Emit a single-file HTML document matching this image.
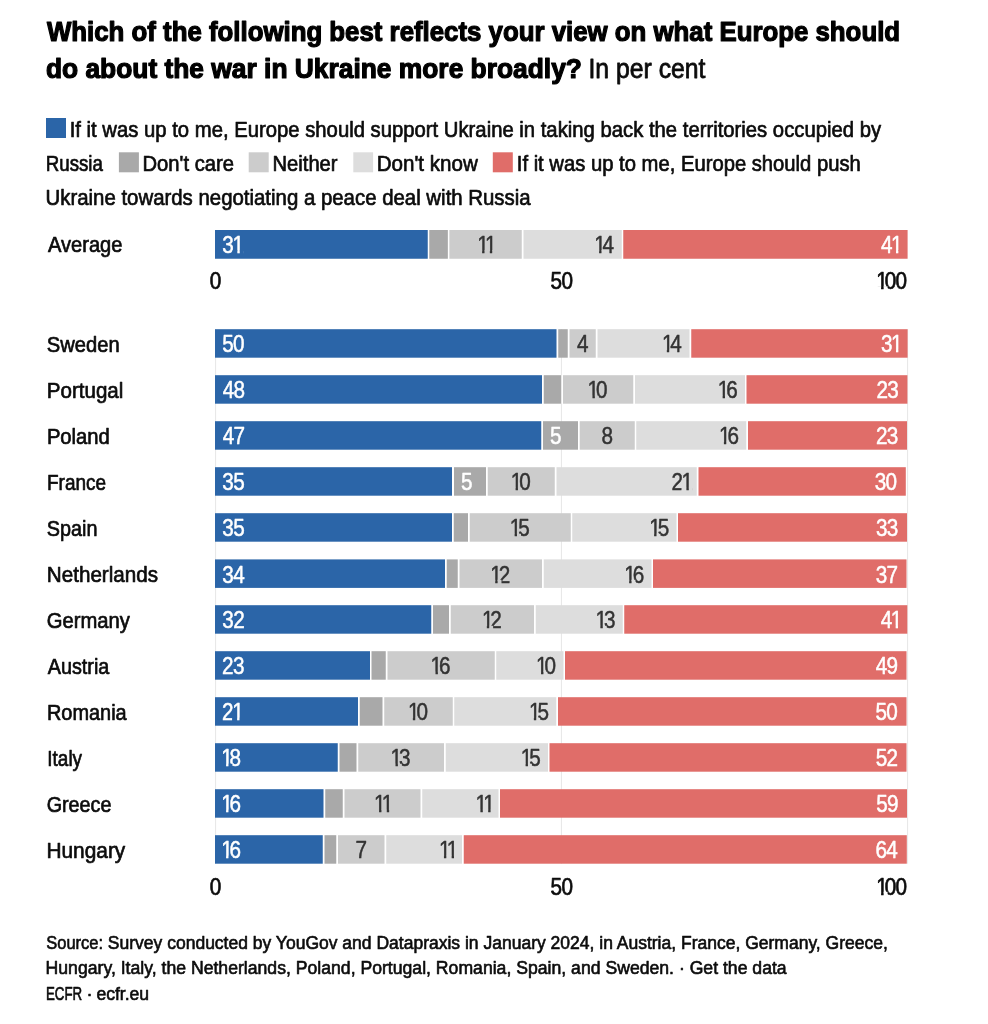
<!DOCTYPE html>
<html lang="en"><head><meta charset="utf-8"><title>What should Europe do about the war in Ukraine</title>
<style>
html,body{margin:0;padding:0;background:#fff;}
body{width:988px;height:1024px;overflow:hidden;}
svg{display:block;font-family:"Liberation Sans",sans-serif;}
text{stroke-linejoin:round;}
</style></head><body>
<svg width="988" height="1024" viewBox="0 0 988 1024">
<rect width="988" height="1024" fill="#ffffff"/>
<defs>
<clipPath id="c31_05"><rect x="-9.00" y="-30.00" width="79.00" height="27.33"/><rect x="-9.00" y="1.55" width="79.00" height="10.45"/><rect x="-9.00" y="-3.67" width="20.10" height="6.22"/><rect x="16.71" y="-3.67" width="2.57" height="6.22"/><rect x="23.72" y="-3.67" width="46.28" height="6.22"/></clipPath>
<clipPath id="c11_05"><rect x="-9.00" y="-30.00" width="79.00" height="27.33"/><rect x="-9.00" y="1.55" width="79.00" height="10.45"/><rect x="-9.00" y="-3.67" width="8.90" height="6.22"/><rect x="5.51" y="-3.67" width="2.57" height="6.22"/><rect x="14.11" y="-3.67" width="2.57" height="6.22"/><rect x="21.12" y="-3.67" width="48.88" height="6.22"/></clipPath>
<clipPath id="c14_05"><rect x="-9.00" y="-30.00" width="79.00" height="27.33"/><rect x="-9.00" y="1.55" width="79.00" height="10.45"/><rect x="-9.00" y="-3.67" width="8.90" height="6.22"/><rect x="5.51" y="-3.67" width="2.57" height="6.22"/><rect x="12.52" y="-3.67" width="57.48" height="6.22"/></clipPath>
<clipPath id="c41_05"><rect x="-9.00" y="-30.00" width="79.00" height="27.33"/><rect x="-9.00" y="1.55" width="79.00" height="10.45"/><rect x="-9.00" y="-3.67" width="20.10" height="6.22"/><rect x="16.71" y="-3.67" width="2.57" height="6.22"/><rect x="23.72" y="-3.67" width="46.28" height="6.22"/></clipPath>
<clipPath id="c10_05"><rect x="-9.00" y="-30.00" width="79.00" height="27.33"/><rect x="-9.00" y="1.55" width="79.00" height="10.45"/><rect x="-9.00" y="-3.67" width="8.90" height="6.22"/><rect x="5.51" y="-3.67" width="2.57" height="6.22"/><rect x="12.52" y="-3.67" width="57.48" height="6.22"/></clipPath>
<clipPath id="c16_05"><rect x="-9.00" y="-30.00" width="79.00" height="27.33"/><rect x="-9.00" y="1.55" width="79.00" height="10.45"/><rect x="-9.00" y="-3.67" width="8.90" height="6.22"/><rect x="5.51" y="-3.67" width="2.57" height="6.22"/><rect x="12.52" y="-3.67" width="57.48" height="6.22"/></clipPath>
<clipPath id="c21_05"><rect x="-9.00" y="-30.00" width="79.00" height="27.33"/><rect x="-9.00" y="1.55" width="79.00" height="10.45"/><rect x="-9.00" y="-3.67" width="20.10" height="6.22"/><rect x="16.71" y="-3.67" width="2.57" height="6.22"/><rect x="23.72" y="-3.67" width="46.28" height="6.22"/></clipPath>
<clipPath id="c15_05"><rect x="-9.00" y="-30.00" width="79.00" height="27.33"/><rect x="-9.00" y="1.55" width="79.00" height="10.45"/><rect x="-9.00" y="-3.67" width="8.90" height="6.22"/><rect x="5.51" y="-3.67" width="2.57" height="6.22"/><rect x="12.52" y="-3.67" width="57.48" height="6.22"/></clipPath>
<clipPath id="c12_05"><rect x="-9.00" y="-30.00" width="79.00" height="27.33"/><rect x="-9.00" y="1.55" width="79.00" height="10.45"/><rect x="-9.00" y="-3.67" width="8.90" height="6.22"/><rect x="5.51" y="-3.67" width="2.57" height="6.22"/><rect x="12.52" y="-3.67" width="57.48" height="6.22"/></clipPath>
<clipPath id="c13_05"><rect x="-9.00" y="-30.00" width="79.00" height="27.33"/><rect x="-9.00" y="1.55" width="79.00" height="10.45"/><rect x="-9.00" y="-3.67" width="8.90" height="6.22"/><rect x="5.51" y="-3.67" width="2.57" height="6.22"/><rect x="12.52" y="-3.67" width="57.48" height="6.22"/></clipPath>
<clipPath id="c18_05"><rect x="-9.00" y="-30.00" width="79.00" height="27.33"/><rect x="-9.00" y="1.55" width="79.00" height="10.45"/><rect x="-9.00" y="-3.67" width="8.90" height="6.22"/><rect x="5.51" y="-3.67" width="2.57" height="6.22"/><rect x="12.52" y="-3.67" width="57.48" height="6.22"/></clipPath>
<clipPath id="c100_07"><rect x="-9.00" y="-30.00" width="79.00" height="27.23"/><rect x="-9.00" y="1.65" width="79.00" height="10.35"/><rect x="-9.00" y="-3.77" width="8.80" height="6.42"/><rect x="5.41" y="-3.77" width="2.77" height="6.42"/><rect x="12.62" y="-3.77" width="57.38" height="6.42"/></clipPath>
</defs>
<rect x="215.10" y="329.20" width="1.00" height="534.50" fill="#e6e6e6"/>
<rect x="560.90" y="329.20" width="1.00" height="534.50" fill="#e6e6e6"/>
<rect x="907.10" y="329.20" width="1.00" height="534.50" fill="#e6e6e6"/>
<rect x="215.00" y="230.00" width="212.75" height="28.75" fill="#2b65a8"/>
<rect x="429.25" y="230.00" width="18.60" height="28.75" fill="#a9a9a9"/>
<rect x="449.35" y="230.00" width="72.40" height="28.75" fill="#cccccc"/>
<rect x="523.50" y="230.00" width="98.25" height="28.75" fill="#dddddd"/>
<rect x="623.25" y="230.00" width="284.35" height="28.75" fill="#e06d69"/>
<text x="47.91" y="252.30" font-size="22.4" fill="#0c0c0c" stroke="#0c0c0c" stroke-width="0.7" textLength="74.53" lengthAdjust="spacingAndGlyphs">Average</text>
<g transform="translate(222.34,252.90) scale(0.9,1)"><text x="0.00 11.20" y="0" font-size="23.0" fill="#ffffff" stroke="#ffffff" stroke-width="0.5" clip-path="url(#c31_05)">31</text></g>
<g transform="translate(477.17,252.90) scale(0.9,1)"><text x="0.00 8.60" y="0" font-size="23.0" fill="#333333" stroke="#333333" stroke-width="0.5" clip-path="url(#c11_05)">11</text></g>
<g transform="translate(594.16,252.90) scale(0.9,1)"><text x="0.00 9.40" y="0" font-size="23.0" fill="#333333" stroke="#333333" stroke-width="0.5" clip-path="url(#c14_05)">14</text></g>
<g transform="translate(880.96,252.90) scale(0.9,1)"><text x="0.00 11.20" y="0" font-size="23.0" fill="#ffffff" stroke="#ffffff" stroke-width="0.5" clip-path="url(#c41_05)">41</text></g>
<rect x="215.00" y="329.20" width="341.50" height="28.50" fill="#2b65a8"/>
<rect x="558.25" y="329.20" width="9.50" height="28.50" fill="#a9a9a9"/>
<rect x="569.50" y="329.20" width="26.25" height="28.50" fill="#cccccc"/>
<rect x="597.50" y="329.20" width="92.00" height="28.50" fill="#dddddd"/>
<rect x="691.25" y="329.20" width="216.35" height="28.50" fill="#e06d69"/>
<text x="46.83" y="351.90" font-size="22.4" fill="#0c0c0c" stroke="#0c0c0c" stroke-width="0.7" textLength="72.88" lengthAdjust="spacingAndGlyphs">Sweden</text>
<g transform="translate(222.30,352.30) scale(0.9,1)"><text x="0.00 12.00" y="0" font-size="23.0" fill="#ffffff" stroke="#ffffff" stroke-width="0.5">50</text></g>
<g transform="translate(576.93,352.30) scale(0.9,1)"><text x="0.00" y="0" font-size="23.0" fill="#333333" stroke="#333333" stroke-width="0.5">4</text></g>
<g transform="translate(661.91,352.30) scale(0.9,1)"><text x="0.00 9.40" y="0" font-size="23.0" fill="#333333" stroke="#333333" stroke-width="0.5" clip-path="url(#c14_05)">14</text></g>
<g transform="translate(880.96,352.30) scale(0.9,1)"><text x="0.00 11.20" y="0" font-size="23.0" fill="#ffffff" stroke="#ffffff" stroke-width="0.5" clip-path="url(#c31_05)">31</text></g>
<rect x="215.00" y="375.20" width="327.00" height="28.50" fill="#2b65a8"/>
<rect x="543.75" y="375.20" width="17.25" height="28.50" fill="#a9a9a9"/>
<rect x="563.00" y="375.20" width="70.25" height="28.50" fill="#cccccc"/>
<rect x="635.00" y="375.20" width="110.00" height="28.50" fill="#dddddd"/>
<rect x="746.50" y="375.20" width="160.90" height="28.50" fill="#e06d69"/>
<text x="46.87" y="397.90" font-size="22.4" fill="#0c0c0c" stroke="#0c0c0c" stroke-width="0.7" textLength="76.46" lengthAdjust="spacingAndGlyphs">Portugal</text>
<g transform="translate(222.65,398.30) scale(0.9,1)"><text x="0.00 12.00" y="0" font-size="23.0" fill="#ffffff" stroke="#ffffff" stroke-width="0.5">48</text></g>
<g transform="translate(587.55,398.30) scale(0.9,1)"><text x="0.00 9.40" y="0" font-size="23.0" fill="#333333" stroke="#333333" stroke-width="0.5" clip-path="url(#c10_05)">10</text></g>
<g transform="translate(717.72,398.30) scale(0.9,1)"><text x="0.00 9.40" y="0" font-size="23.0" fill="#333333" stroke="#333333" stroke-width="0.5" clip-path="url(#c16_05)">16</text></g>
<g transform="translate(876.48,398.30) scale(0.9,1)"><text x="0.00 12.00" y="0" font-size="23.0" fill="#ffffff" stroke="#ffffff" stroke-width="0.5">23</text></g>
<rect x="215.00" y="421.20" width="326.25" height="28.50" fill="#2b65a8"/>
<rect x="543.00" y="421.20" width="35.00" height="28.50" fill="#a9a9a9"/>
<rect x="579.70" y="421.20" width="55.05" height="28.50" fill="#cccccc"/>
<rect x="636.25" y="421.20" width="110.00" height="28.50" fill="#dddddd"/>
<rect x="748.00" y="421.20" width="159.00" height="28.50" fill="#e06d69"/>
<text x="46.89" y="443.90" font-size="22.4" fill="#0c0c0c" stroke="#0c0c0c" stroke-width="0.7" textLength="62.96" lengthAdjust="spacingAndGlyphs">Poland</text>
<g transform="translate(222.65,444.30) scale(0.9,1)"><text x="0.00 12.00" y="0" font-size="23.0" fill="#ffffff" stroke="#ffffff" stroke-width="0.5">47</text></g>
<g transform="translate(550.00,444.30) scale(0.9,1)"><text x="0.00" y="0" font-size="23.0" fill="#ffffff" stroke="#ffffff" stroke-width="0.5">5</text></g>
<g transform="translate(601.47,444.30) scale(0.9,1)"><text x="0.00" y="0" font-size="23.0" fill="#333333" stroke="#333333" stroke-width="0.5">8</text></g>
<g transform="translate(718.97,444.30) scale(0.9,1)"><text x="0.00 9.40" y="0" font-size="23.0" fill="#333333" stroke="#333333" stroke-width="0.5" clip-path="url(#c16_05)">16</text></g>
<g transform="translate(876.08,444.30) scale(0.9,1)"><text x="0.00 12.00" y="0" font-size="23.0" fill="#ffffff" stroke="#ffffff" stroke-width="0.5">23</text></g>
<rect x="215.00" y="467.20" width="237.00" height="28.50" fill="#2b65a8"/>
<rect x="454.00" y="467.20" width="32.00" height="28.50" fill="#a9a9a9"/>
<rect x="487.75" y="467.20" width="67.00" height="28.50" fill="#cccccc"/>
<rect x="556.50" y="467.20" width="140.25" height="28.50" fill="#dddddd"/>
<rect x="698.50" y="467.20" width="207.30" height="28.50" fill="#e06d69"/>
<text x="46.99" y="489.90" font-size="22.4" fill="#0c0c0c" stroke="#0c0c0c" stroke-width="0.7" textLength="59.10" lengthAdjust="spacingAndGlyphs">France</text>
<g transform="translate(222.34,490.30) scale(0.9,1)"><text x="0.00 12.00" y="0" font-size="23.0" fill="#ffffff" stroke="#ffffff" stroke-width="0.5">35</text></g>
<g transform="translate(461.00,490.30) scale(0.9,1)"><text x="0.00" y="0" font-size="23.0" fill="#ffffff" stroke="#ffffff" stroke-width="0.5">5</text></g>
<g transform="translate(510.68,490.30) scale(0.9,1)"><text x="0.00 9.40" y="0" font-size="23.0" fill="#333333" stroke="#333333" stroke-width="0.5" clip-path="url(#c10_05)">10</text></g>
<g transform="translate(671.41,490.30) scale(0.9,1)"><text x="0.00 11.20" y="0" font-size="23.0" fill="#333333" stroke="#333333" stroke-width="0.5" clip-path="url(#c21_05)">21</text></g>
<g transform="translate(874.77,490.30) scale(0.9,1)"><text x="0.00 12.00" y="0" font-size="23.0" fill="#ffffff" stroke="#ffffff" stroke-width="0.5">30</text></g>
<rect x="215.00" y="513.20" width="237.00" height="28.50" fill="#2b65a8"/>
<rect x="453.75" y="513.20" width="14.25" height="28.50" fill="#a9a9a9"/>
<rect x="469.75" y="513.20" width="101.00" height="28.50" fill="#cccccc"/>
<rect x="572.25" y="513.20" width="104.25" height="28.50" fill="#dddddd"/>
<rect x="678.00" y="513.20" width="229.00" height="28.50" fill="#e06d69"/>
<text x="46.85" y="535.90" font-size="22.4" fill="#0c0c0c" stroke="#0c0c0c" stroke-width="0.7" textLength="50.69" lengthAdjust="spacingAndGlyphs">Spain</text>
<g transform="translate(222.34,536.30) scale(0.9,1)"><text x="0.00 12.00" y="0" font-size="23.0" fill="#ffffff" stroke="#ffffff" stroke-width="0.5">35</text></g>
<g transform="translate(509.71,536.30) scale(0.9,1)"><text x="0.00 9.40" y="0" font-size="23.0" fill="#333333" stroke="#333333" stroke-width="0.5" clip-path="url(#c15_05)">15</text></g>
<g transform="translate(649.18,536.30) scale(0.9,1)"><text x="0.00 9.40" y="0" font-size="23.0" fill="#333333" stroke="#333333" stroke-width="0.5" clip-path="url(#c15_05)">15</text></g>
<g transform="translate(876.08,536.30) scale(0.9,1)"><text x="0.00 12.00" y="0" font-size="23.0" fill="#ffffff" stroke="#ffffff" stroke-width="0.5">33</text></g>
<rect x="215.00" y="559.40" width="230.00" height="28.50" fill="#2b65a8"/>
<rect x="446.75" y="559.40" width="11.00" height="28.50" fill="#a9a9a9"/>
<rect x="459.50" y="559.40" width="82.50" height="28.50" fill="#cccccc"/>
<rect x="543.75" y="559.40" width="107.75" height="28.50" fill="#dddddd"/>
<rect x="653.00" y="559.40" width="253.50" height="28.50" fill="#e06d69"/>
<text x="46.86" y="582.10" font-size="22.4" fill="#0c0c0c" stroke="#0c0c0c" stroke-width="0.7" textLength="111.14" lengthAdjust="spacingAndGlyphs">Netherlands</text>
<g transform="translate(222.34,582.50) scale(0.9,1)"><text x="0.00 12.00" y="0" font-size="23.0" fill="#ffffff" stroke="#ffffff" stroke-width="0.5">34</text></g>
<g transform="translate(490.29,582.50) scale(0.9,1)"><text x="0.00 9.40" y="0" font-size="23.0" fill="#333333" stroke="#333333" stroke-width="0.5" clip-path="url(#c12_05)">12</text></g>
<g transform="translate(624.22,582.50) scale(0.9,1)"><text x="0.00 9.40" y="0" font-size="23.0" fill="#333333" stroke="#333333" stroke-width="0.5" clip-path="url(#c16_05)">16</text></g>
<g transform="translate(875.70,582.50) scale(0.9,1)"><text x="0.00 12.00" y="0" font-size="23.0" fill="#ffffff" stroke="#ffffff" stroke-width="0.5">37</text></g>
<rect x="215.00" y="605.20" width="216.25" height="28.50" fill="#2b65a8"/>
<rect x="433.00" y="605.20" width="16.00" height="28.50" fill="#a9a9a9"/>
<rect x="450.75" y="605.20" width="83.25" height="28.50" fill="#cccccc"/>
<rect x="535.75" y="605.20" width="87.00" height="28.50" fill="#dddddd"/>
<rect x="624.25" y="605.20" width="283.05" height="28.50" fill="#e06d69"/>
<text x="46.73" y="627.90" font-size="22.4" fill="#0c0c0c" stroke="#0c0c0c" stroke-width="0.7" textLength="83.16" lengthAdjust="spacingAndGlyphs">Germany</text>
<g transform="translate(222.34,628.30) scale(0.9,1)"><text x="0.00 12.00" y="0" font-size="23.0" fill="#ffffff" stroke="#ffffff" stroke-width="0.5">32</text></g>
<g transform="translate(481.91,628.30) scale(0.9,1)"><text x="0.00 9.40" y="0" font-size="23.0" fill="#333333" stroke="#333333" stroke-width="0.5" clip-path="url(#c12_05)">12</text></g>
<g transform="translate(595.47,628.30) scale(0.9,1)"><text x="0.00 9.40" y="0" font-size="23.0" fill="#333333" stroke="#333333" stroke-width="0.5" clip-path="url(#c13_05)">13</text></g>
<g transform="translate(880.66,628.30) scale(0.9,1)"><text x="0.00 11.20" y="0" font-size="23.0" fill="#ffffff" stroke="#ffffff" stroke-width="0.5" clip-path="url(#c41_05)">41</text></g>
<rect x="215.00" y="651.20" width="155.00" height="28.50" fill="#2b65a8"/>
<rect x="371.50" y="651.20" width="14.25" height="28.50" fill="#a9a9a9"/>
<rect x="387.50" y="651.20" width="107.25" height="28.50" fill="#cccccc"/>
<rect x="496.25" y="651.20" width="67.25" height="28.50" fill="#dddddd"/>
<rect x="565.00" y="651.20" width="341.50" height="28.50" fill="#e06d69"/>
<text x="47.71" y="673.90" font-size="22.4" fill="#0c0c0c" stroke="#0c0c0c" stroke-width="0.7" textLength="61.64" lengthAdjust="spacingAndGlyphs">Austria</text>
<g transform="translate(222.09,674.30) scale(0.9,1)"><text x="0.00 12.00" y="0" font-size="23.0" fill="#ffffff" stroke="#ffffff" stroke-width="0.5">23</text></g>
<g transform="translate(430.60,674.30) scale(0.9,1)"><text x="0.00 9.40" y="0" font-size="23.0" fill="#333333" stroke="#333333" stroke-width="0.5" clip-path="url(#c16_05)">16</text></g>
<g transform="translate(536.11,674.30) scale(0.9,1)"><text x="0.00 9.40" y="0" font-size="23.0" fill="#333333" stroke="#333333" stroke-width="0.5" clip-path="url(#c10_05)">10</text></g>
<g transform="translate(875.64,674.30) scale(0.9,1)"><text x="0.00 12.00" y="0" font-size="23.0" fill="#ffffff" stroke="#ffffff" stroke-width="0.5">49</text></g>
<rect x="215.00" y="697.20" width="143.00" height="28.50" fill="#2b65a8"/>
<rect x="359.75" y="697.20" width="22.75" height="28.50" fill="#a9a9a9"/>
<rect x="384.25" y="697.20" width="68.50" height="28.50" fill="#cccccc"/>
<rect x="454.25" y="697.20" width="102.00" height="28.50" fill="#dddddd"/>
<rect x="558.00" y="697.20" width="348.50" height="28.50" fill="#e06d69"/>
<text x="46.91" y="719.90" font-size="22.4" fill="#0c0c0c" stroke="#0c0c0c" stroke-width="0.7" textLength="79.74" lengthAdjust="spacingAndGlyphs">Romania</text>
<g transform="translate(222.09,720.30) scale(0.9,1)"><text x="0.00 11.20" y="0" font-size="23.0" fill="#ffffff" stroke="#ffffff" stroke-width="0.5" clip-path="url(#c21_05)">21</text></g>
<g transform="translate(407.93,720.30) scale(0.9,1)"><text x="0.00 9.40" y="0" font-size="23.0" fill="#333333" stroke="#333333" stroke-width="0.5" clip-path="url(#c10_05)">10</text></g>
<g transform="translate(528.93,720.30) scale(0.9,1)"><text x="0.00 9.40" y="0" font-size="23.0" fill="#333333" stroke="#333333" stroke-width="0.5" clip-path="url(#c15_05)">15</text></g>
<g transform="translate(875.47,720.30) scale(0.9,1)"><text x="0.00 12.00" y="0" font-size="23.0" fill="#ffffff" stroke="#ffffff" stroke-width="0.5">50</text></g>
<rect x="215.00" y="743.20" width="122.75" height="28.50" fill="#2b65a8"/>
<rect x="339.50" y="743.20" width="17.00" height="28.50" fill="#a9a9a9"/>
<rect x="358.25" y="743.20" width="85.75" height="28.50" fill="#cccccc"/>
<rect x="445.75" y="743.20" width="102.25" height="28.50" fill="#dddddd"/>
<rect x="549.50" y="743.20" width="357.00" height="28.50" fill="#e06d69"/>
<text x="47.35" y="765.90" font-size="22.4" fill="#0c0c0c" stroke="#0c0c0c" stroke-width="0.7" textLength="34.73" lengthAdjust="spacingAndGlyphs">Italy</text>
<g transform="translate(221.14,766.30) scale(0.9,1)"><text x="0.00 9.40" y="0" font-size="23.0" fill="#ffffff" stroke="#ffffff" stroke-width="0.5" clip-path="url(#c18_05)">18</text></g>
<g transform="translate(390.60,766.30) scale(0.9,1)"><text x="0.00 9.40" y="0" font-size="23.0" fill="#333333" stroke="#333333" stroke-width="0.5" clip-path="url(#c13_05)">13</text></g>
<g transform="translate(520.68,766.30) scale(0.9,1)"><text x="0.00 9.40" y="0" font-size="23.0" fill="#333333" stroke="#333333" stroke-width="0.5" clip-path="url(#c15_05)">15</text></g>
<g transform="translate(875.70,766.30) scale(0.9,1)"><text x="0.00 12.00" y="0" font-size="23.0" fill="#ffffff" stroke="#ffffff" stroke-width="0.5">52</text></g>
<rect x="215.00" y="789.20" width="108.50" height="28.50" fill="#2b65a8"/>
<rect x="325.25" y="789.20" width="17.50" height="28.50" fill="#a9a9a9"/>
<rect x="344.50" y="789.20" width="76.00" height="28.50" fill="#cccccc"/>
<rect x="422.25" y="789.20" width="76.25" height="28.50" fill="#dddddd"/>
<rect x="500.00" y="789.20" width="407.00" height="28.50" fill="#e06d69"/>
<text x="46.65" y="811.90" font-size="22.4" fill="#0c0c0c" stroke="#0c0c0c" stroke-width="0.7" textLength="64.87" lengthAdjust="spacingAndGlyphs">Greece</text>
<g transform="translate(221.14,812.30) scale(0.9,1)"><text x="0.00 9.40" y="0" font-size="23.0" fill="#ffffff" stroke="#ffffff" stroke-width="0.5" clip-path="url(#c16_05)">16</text></g>
<g transform="translate(374.12,812.30) scale(0.9,1)"><text x="0.00 8.60" y="0" font-size="23.0" fill="#333333" stroke="#333333" stroke-width="0.5" clip-path="url(#c11_05)">11</text></g>
<g transform="translate(475.50,812.30) scale(0.9,1)"><text x="0.00 8.60" y="0" font-size="23.0" fill="#333333" stroke="#333333" stroke-width="0.5" clip-path="url(#c11_05)">11</text></g>
<g transform="translate(876.14,812.30) scale(0.9,1)"><text x="0.00 12.00" y="0" font-size="23.0" fill="#ffffff" stroke="#ffffff" stroke-width="0.5">59</text></g>
<rect x="215.00" y="835.20" width="107.75" height="28.50" fill="#2b65a8"/>
<rect x="324.50" y="835.20" width="11.75" height="28.50" fill="#a9a9a9"/>
<rect x="338.00" y="835.20" width="46.50" height="28.50" fill="#cccccc"/>
<rect x="386.25" y="835.20" width="75.75" height="28.50" fill="#dddddd"/>
<rect x="463.75" y="835.20" width="443.05" height="28.50" fill="#e06d69"/>
<text x="46.44" y="857.90" font-size="22.4" fill="#0c0c0c" stroke="#0c0c0c" stroke-width="0.7" textLength="78.85" lengthAdjust="spacingAndGlyphs">Hungary</text>
<g transform="translate(221.14,858.30) scale(0.9,1)"><text x="0.00 9.40" y="0" font-size="23.0" fill="#ffffff" stroke="#ffffff" stroke-width="0.5" clip-path="url(#c16_05)">16</text></g>
<g transform="translate(355.49,858.30) scale(0.9,1)"><text x="0.00" y="0" font-size="23.0" fill="#333333" stroke="#333333" stroke-width="0.5">7</text></g>
<g transform="translate(439.00,858.30) scale(0.9,1)"><text x="0.00 8.60" y="0" font-size="23.0" fill="#333333" stroke="#333333" stroke-width="0.5" clip-path="url(#c11_05)">11</text></g>
<g transform="translate(875.57,858.30) scale(0.9,1)"><text x="0.00 12.00" y="0" font-size="23.0" fill="#ffffff" stroke="#ffffff" stroke-width="0.5">64</text></g>
<g transform="translate(209.85,289.00) scale(0.9,1)"><text x="0.00" y="0" font-size="23.0" fill="#0c0c0c" stroke="#0c0c0c" stroke-width="0.7">0</text></g>
<g transform="translate(550.59,289.00) scale(0.9,1)"><text x="0.00 12.00" y="0" font-size="23.0" fill="#0c0c0c" stroke="#0c0c0c" stroke-width="0.7">50</text></g>
<g transform="translate(876.22,289.00) scale(0.9,1)"><text x="0.00 9.40 21.40" y="0" font-size="23.0" fill="#0c0c0c" stroke="#0c0c0c" stroke-width="0.7" clip-path="url(#c100_07)">100</text></g>
<g transform="translate(209.85,894.50) scale(0.9,1)"><text x="0.00" y="0" font-size="23.0" fill="#0c0c0c" stroke="#0c0c0c" stroke-width="0.7">0</text></g>
<g transform="translate(550.59,894.50) scale(0.9,1)"><text x="0.00 12.00" y="0" font-size="23.0" fill="#0c0c0c" stroke="#0c0c0c" stroke-width="0.7">50</text></g>
<g transform="translate(876.22,894.50) scale(0.9,1)"><text x="0.00 9.40 21.40" y="0" font-size="23.0" fill="#0c0c0c" stroke="#0c0c0c" stroke-width="0.7" clip-path="url(#c100_07)">100</text></g>
<text x="46.97" y="41.10" font-size="27.4" fill="#000000" stroke="#000000" stroke-width="1.2" font-weight="bold" textLength="853.13" lengthAdjust="spacingAndGlyphs">Which of the following best reflects your view on what Europe should</text>
<text x="45.92" y="78.40" font-size="27.4" fill="#000000" stroke="#000000" stroke-width="1.2" font-weight="bold" textLength="536.00" lengthAdjust="spacingAndGlyphs">do about the war in Ukraine more broadly?</text>
<text x="588.41" y="78.40" font-size="27.4" fill="#0c0c0c" stroke="#0c0c0c" stroke-width="0.8" textLength="117.07" lengthAdjust="spacingAndGlyphs">In per cent</text>
<rect x="46.00" y="118.00" width="20.00" height="20.00" fill="#2b65a8"/>
<text x="69.68" y="136.60" font-size="22.4" fill="#0c0c0c" stroke="#0c0c0c" stroke-width="0.7" textLength="811.41" lengthAdjust="spacingAndGlyphs">If it was up to me, Europe should support Ukraine in taking back the territories occupied by</text>
<text x="45.71" y="170.80" font-size="22.4" fill="#0c0c0c" stroke="#0c0c0c" stroke-width="0.7" textLength="57.24" lengthAdjust="spacingAndGlyphs">Russia</text>
<rect x="118.90" y="152.30" width="20.00" height="20.00" fill="#a9a9a9"/>
<text x="142.49" y="170.80" font-size="22.4" fill="#0c0c0c" stroke="#0c0c0c" stroke-width="0.7" textLength="91.56" lengthAdjust="spacingAndGlyphs">Don't care</text>
<rect x="248.70" y="152.30" width="20.00" height="20.00" fill="#cccccc"/>
<text x="272.49" y="170.80" font-size="22.4" fill="#0c0c0c" stroke="#0c0c0c" stroke-width="0.7" textLength="65.09" lengthAdjust="spacingAndGlyphs">Neither</text>
<rect x="353.30" y="152.30" width="19.80" height="20.00" fill="#dddddd"/>
<text x="376.66" y="170.80" font-size="22.4" fill="#0c0c0c" stroke="#0c0c0c" stroke-width="0.7" textLength="101.14" lengthAdjust="spacingAndGlyphs">Don't know</text>
<rect x="492.80" y="152.30" width="20.00" height="20.00" fill="#e06d69"/>
<text x="516.78" y="170.80" font-size="22.4" fill="#0c0c0c" stroke="#0c0c0c" stroke-width="0.7" textLength="344.08" lengthAdjust="spacingAndGlyphs">If it was up to me, Europe should push</text>
<text x="45.48" y="204.80" font-size="22.4" fill="#0c0c0c" stroke="#0c0c0c" stroke-width="0.7" textLength="485.17" lengthAdjust="spacingAndGlyphs">Ukraine towards negotiating a peace deal with Russia</text>
<text y="948.50" font-size="18.9" fill="#0c0c0c" stroke="#0c0c0c" stroke-width="0.65"><tspan x="46.28" textLength="56.80" lengthAdjust="spacingAndGlyphs">Source:</tspan> <tspan x="107.83" textLength="780.02" lengthAdjust="spacingAndGlyphs">Survey conducted by YouGov and Datapraxis in January 2024, in Austria, France, Germany, Greece,</tspan></text>
<text x="45.58" y="974.10" font-size="18.9" fill="#0c0c0c" stroke="#0c0c0c" stroke-width="0.65" textLength="741.10" lengthAdjust="spacingAndGlyphs">Hungary, Italy, the Netherlands, Poland, Portugal, Romania, Spain, and Sweden. · Get the data</text>
<text y="999.70" font-size="18.9" fill="#0c0c0c" stroke="#0c0c0c" stroke-width="0.65"><tspan x="45.93" textLength="36.26" lengthAdjust="spacingAndGlyphs">ECFR</tspan> <tspan x="86.45" textLength="6.11" lengthAdjust="spacingAndGlyphs">·</tspan> <tspan x="96.38" textLength="52.76" lengthAdjust="spacingAndGlyphs">ecfr.eu</tspan></text>
</svg>
</body></html>
